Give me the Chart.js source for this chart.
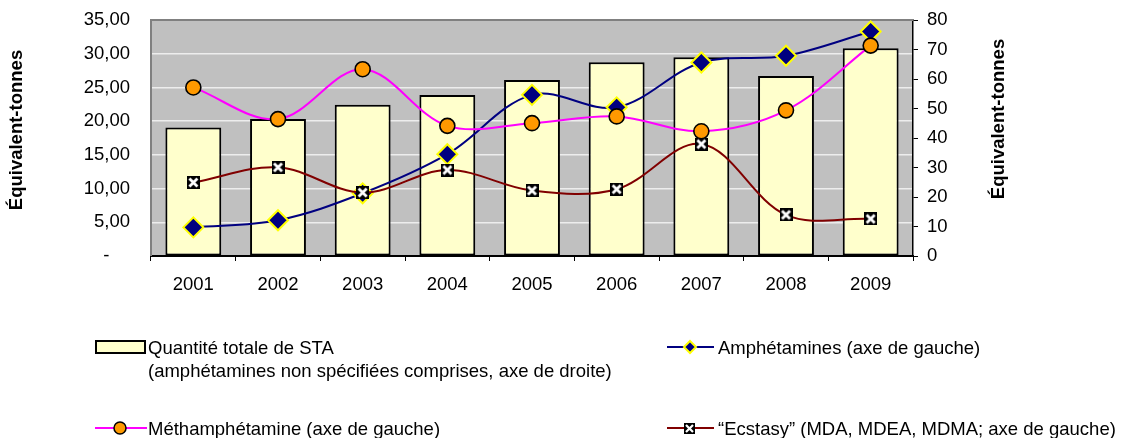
<!DOCTYPE html>
<html lang="fr">
<head>
    <meta charset="UTF-8">
    <title>Quantité totale de STA</title>
    <script src="https://cdn.jsdelivr.net/npm/chart.js"></script>
    <style>
        body { margin: 0; background: #fff; font-family: "Liberation Sans", Arial, sans-serif; }
        .wrap { position: relative; width: 1122px; height: 438px; }
        .legend-text { position: absolute; font-size: 18.5px; line-height: 23px; color: #000; white-space: nowrap; }
        .legend-icon { position: absolute; }
    </style>
</head>
<body>
    <div class="wrap">
        <canvas id="staChart" width="1122" height="438"></canvas>

        <!-- Legend -->
        <svg class="legend-icon" style="left:95px; top:340px;" width="52" height="14">
            <rect x="1" y="1" width="49" height="12" fill="#FFFFCC" stroke="#000" stroke-width="2"/>
        </svg>
        <div class="legend-text" style="left:148px; top:336px;">Quantité totale de STA<br>(amphétamines non spécifiées comprises, axe de droite)</div>

        <svg class="legend-icon" style="left:95px; top:420px;" width="52" height="16">
            <line x1="0" y1="8" x2="52" y2="8" stroke="#FF00FF" stroke-width="2"/>
            <circle cx="25" cy="8" r="6" fill="#FF9900" stroke="#000" stroke-width="1.5"/>
        </svg>
        <div class="legend-text" style="left:148px; top:417px;">Méthamphétamine (axe de gauche)</div>

        <svg class="legend-icon" style="left:667px; top:339px;" width="48" height="16">
            <line x1="0" y1="8" x2="47" y2="8" stroke="#000080" stroke-width="2"/>
            <polygon points="23,2 29,8 23,14 17,8" fill="#000080" stroke="#FFFF00" stroke-width="2"/>
        </svg>
        <div class="legend-text" style="left:718px; top:336px;">Amphétamines (axe de gauche)</div>

        <svg class="legend-icon" style="left:667px; top:420px;" width="48" height="16">
            <line x1="0" y1="8" x2="47" y2="8" stroke="#800000" stroke-width="2"/>
            <rect x="17" y="3" width="11" height="11" fill="#000"/>
            <path d="M19 5 L26 12 M26 5 L19 12" stroke="#fff" stroke-width="2.2"/>
        </svg>
        <div class="legend-text" style="left:718px; top:417px;">“Ecstasy” (MDA, MDEA, MDMA; axe de gauche)</div>
    </div>

    <script>
        // Data
        const years = ['2001', '2002', '2003', '2004', '2005', '2006', '2007', '2008', '2009'];
        const totalSTA = [43.6, 46.4, 51.3, 54.6, 59.7, 65.7, 67.4, 61.0, 70.4];          // right axis
        const methamphetamine = [25.0, 20.3, 27.7, 19.3, 19.7, 20.7, 18.5, 21.6, 31.2];   // left axis
        const amphetamines = [4.25, 5.3, 9.3, 15.1, 23.9, 22.05, 28.7, 29.7, 33.3];       // left axis
        const ecstasy = [10.9, 13.15, 9.4, 12.75, 9.7, 9.9, 16.6, 6.1, 5.5];              // left axis

        const leftTicks = [0, 5, 10, 15, 20, 25, 30, 35];
        const rightTicks = [0, 10, 20, 30, 40, 50, 60, 70, 80];

        const FONT = '"Liberation Sans", Arial, sans-serif';
        const tickFont = { family: FONT, size: 18.5 };

        // black square with white cross, like the Excel marker
        function makeCrossBox(size) {
            const c = document.createElement('canvas');
            c.width = size; c.height = size;
            const g = c.getContext('2d');
            g.fillStyle = '#000';
            g.fillRect(0, 0, size, size);
            g.strokeStyle = '#fff';
            g.lineWidth = 2.8;
            g.beginPath();
            g.moveTo(2.5, 2.5); g.lineTo(size - 2.5, size - 2.5);
            g.moveTo(size - 2.5, 2.5); g.lineTo(2.5, size - 2.5);
            g.stroke();
            return c;
        }

        // fixed axis boxes; drop the tick padding that chart.js adds above/below
        function fixWidth(w) {
            return scale => {
                scale.width = w;
                scale.paddingTop = 0;
                scale.paddingBottom = 0;
            };
        }

        const plotFrame = {
            id: 'plotFrame',
            beforeDraw(chart) {
                const { ctx, chartArea: a } = chart;
                ctx.save();
                ctx.fillStyle = '#C0C0C0';
                ctx.fillRect(a.left, a.top, a.right - a.left, a.bottom - a.top);
                ctx.restore();
            },
            beforeDatasetsDraw(chart) {
                const { ctx, chartArea: a } = chart;
                ctx.save();
                ctx.strokeStyle = '#808080';
                ctx.lineWidth = 2;
                ctx.beginPath();
                ctx.moveTo(a.left, a.bottom);
                ctx.lineTo(a.left, a.top);
                ctx.lineTo(a.right, a.top);
                ctx.stroke();
                ctx.restore();
            },
            afterDraw(chart) {
                // both axis titles read bottom to top
                const { ctx, chartArea: a, scales } = chart;
                ctx.save();
                ctx.font = 'bold 18.5px ' + FONT;
                ctx.fillStyle = '#000';
                ctx.textAlign = 'center';
                ctx.textBaseline = 'middle';
                [[scales.y.left + 17, a.top + 110], [scales.y1.right - 123, a.top + 99]].forEach(([x, y]) => {
                    ctx.save();
                    ctx.translate(x, y);
                    ctx.rotate(-Math.PI / 2);
                    ctx.fillText('Équivalent-tonnes', 0, 0);
                    ctx.restore();
                });
                ctx.restore();
            }
        };

        const ctx = document.getElementById('staChart').getContext('2d');
        const staChart = new Chart(ctx, {
            type: 'bar',
            data: {
                labels: years,
                datasets: [
                    {
                        type: 'line',
                        label: 'Amphétamines (axe de gauche)',
                        data: amphetamines,
                        yAxisID: 'y',
                        borderColor: '#000080',
                        borderWidth: 2,
                        tension: 0.35,
                        pointStyle: 'rectRot',
                        pointRadius: 10,
                        pointBackgroundColor: '#000080',
                        pointBorderColor: '#FFFF00',
                        pointBorderWidth: 2,
                        order: 3
                    },
                    {
                        type: 'line',
                        label: 'Méthamphétamine (axe de gauche)',
                        data: methamphetamine,
                        yAxisID: 'y',
                        borderColor: '#FF00FF',
                        borderWidth: 2,
                        tension: 0.35,
                        pointStyle: 'circle',
                        pointRadius: 7.5,
                        pointBackgroundColor: '#FF9900',
                        pointBorderColor: '#000',
                        pointBorderWidth: 1.6,
                        order: 2
                    },
                    {
                        type: 'line',
                        label: '“Ecstasy” (MDA, MDEA, MDMA; axe de gauche)',
                        data: ecstasy,
                        yAxisID: 'y',
                        borderColor: '#800000',
                        borderWidth: 2,
                        tension: 0.35,
                        pointStyle: makeCrossBox(13),
                        order: 1
                    },
                    {
                        type: 'bar',
                        label: 'Quantité totale de STA',
                        data: totalSTA,
                        yAxisID: 'y1',
                        backgroundColor: '#FFFFCC',
                        borderColor: '#000',
                        borderWidth: 2,
                        borderSkipped: false,
                        categoryPercentage: 1,
                        barPercentage: 0.66,
                        order: 10
                    }
                ]
            },
            options: {
                responsive: false,
                animation: false,
                layout: { padding: { top: 20, left: 0, right: 0, bottom: 0 } },
                plugins: {
                    legend: { display: false },
                    tooltip: { enabled: false }
                },
                scales: {
                    x: {
                        offset: true,
                        grid: { offset: true, drawOnChartArea: false, drawTicks: true, tickLength: 5, color: '#000', lineWidth: 1 },
                        border: { display: true, color: '#000', width: 2 },
                        ticks: { font: tickFont, color: '#000', padding: 13, maxRotation: 0 },
                        afterFit(scale) { scale.height = 182; }
                    },
                    y: {
                        position: 'left',
                        min: 0,
                        max: 35,
                        afterBuildTicks(scale) { scale.ticks = leftTicks.map(v => ({ value: v })); },
                        grid: {
                            drawTicks: false,
                            lineWidth: 1.5,
                            color: c => (c.tick && (c.tick.value === 0 || c.tick.value === 35)) ? 'rgba(0,0,0,0)' : '#EDEDED'
                        },
                        border: { display: false },
                        ticks: {
                            font: tickFont,
                            color: '#000',
                            padding: 21,
                            callback: v => v === 0 ? '-    ' : v.toFixed(2).replace('.', ',')
                        },
                        afterFit: fixWidth(151)
                    },
                    y1: {
                        position: 'right',
                        min: 0,
                        max: 80,
                        afterBuildTicks(scale) { scale.ticks = rightTicks.map(v => ({ value: v })); },
                        grid: { drawOnChartArea: false, drawTicks: true, tickLength: 5, color: '#000' },
                        border: { display: true, color: '#000', width: 1.5 },
                        ticks: { font: tickFont, color: '#000', padding: 9 },
                        afterFit: fixWidth(209)
                    }
                }
            },
            plugins: [plotFrame]
        });
    </script>
</body>
</html>
